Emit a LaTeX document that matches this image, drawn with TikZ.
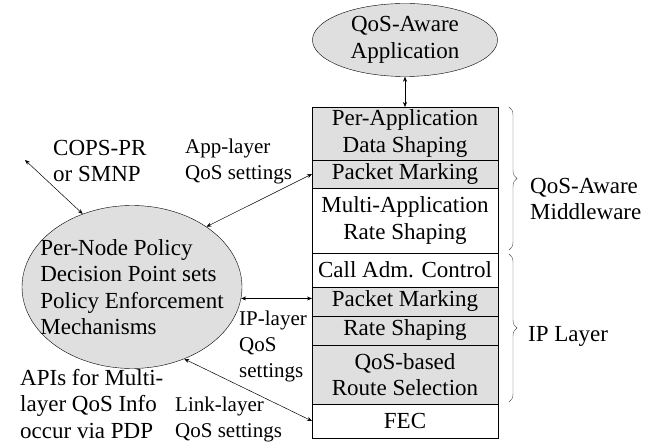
\documentclass[tikz,border=0pt]{standalone}
\usepackage{fontspec}
\setmainfont{Liberation Serif}
\usetikzlibrary{arrows.meta, positioning, shapes.geometric, decorations.pathreplacing}

\begin{document}
\begin{tikzpicture}[x=1pt, y=-1pt, font=\fontsize{23}{26.5}\selectfont,
    layer/.style={draw, rectangle, minimum width=186pt, inner sep=0pt, outer sep=0pt, align=center, fill=white},
    shaded/.style={layer, fill=gray!25},
    blob/.style={draw, ellipse, fill=gray!25, inner xsep=-22pt, inner ysep=0pt},
    link/.style={line width=0.5pt, {Stealth[length=5pt, width=4pt]}-{Stealth[length=5pt, width=4pt]}},
    lbl/.style={anchor=west, align=left, inner sep=0pt},
    small/.style={lbl, font=\fontsize{21}{26}\selectfont}]

    \useasboundingbox (0,0) rectangle (657,443);

    % application on top
    \node[blob, inner xsep=0pt, minimum width=185pt, minimum height=73pt, align=center] (app) at (405,40) {QoS-Aware\\Application};

    % protocol stack
    \node[shaded, minimum height=53pt] (pad) at (405,133.5) {Per-Application\\Data Shaping};
    \node[shaded, minimum height=28pt, below=0pt of pad] (pm1) {Packet Marking};
    \node[layer, minimum height=65pt, below=0pt of pm1] (mrs) {Multi-Application\\Rate Shaping};
    \node[layer, minimum height=34pt, below=0pt of mrs] (cac) {Call Adm. Control};
    \node[shaded, minimum height=29pt, below=0pt of cac] (pm2) {Packet Marking};
    \node[shaded, minimum height=29pt, below=0pt of pm2] (rs) {Rate Shaping};
    \node[shaded, minimum height=59pt, below=0pt of rs] (qrs) {QoS-based\\Route Selection};
    \node[layer, minimum height=34pt, below=0pt of qrs] (fec) {FEC};

    % policy decision point
    \node[blob, minimum width=220pt, minimum height=163pt, align=left] (pdp) at (132,287)
        {Per-Node Policy\\Decision Point sets\\Policy Enforcement\\Mechanisms};
    \coordinate (cops) at (25,160);

    % braces
    \draw[black!70, decorate, decoration={brace, amplitude=8pt}]
        ([xshift=11pt]pad.north east) -- ([xshift=11pt, yshift=3pt]mrs.south east);
    \draw[black!70, decorate, decoration={brace, amplitude=8pt}]
        ([xshift=11pt, yshift=-1pt]cac.north east) -- ([xshift=11pt, yshift=2pt]qrs.south east);

    % arrows
    \draw[link] (app) -- (pad);
    \draw[link] (cops) -- (pdp.124);
    \draw[link] (pdp.39) -- (pm1.west);
    \draw[link] (pdp.-6) -- (pdp.-6 -| pm2.west);
    \draw[link] (pdp.-54) -- (fec.west);

    % labels
    \node[lbl] (copsl) at (53,161) {COPS-PR\\or SMNP};
    \node[small] (appl) at (185,161) {App-layer\\QoS settings};
    \node[small] (ipl) at (239,346) {IP-layer\\QoS\\settings};
    \node[lbl] (apil) at (20,404) {APIs for Multi-\\layer QoS Info\\occur via PDP};
    \node[small] (linkl) at (175,419) {Link-layer\\QoS settings};
    \node[lbl] (mwl) at (530,199) {QoS-Aware\\Middleware};
    \node[lbl] (ipll) at (528,336) {IP Layer};
\end{tikzpicture}
\end{document}
